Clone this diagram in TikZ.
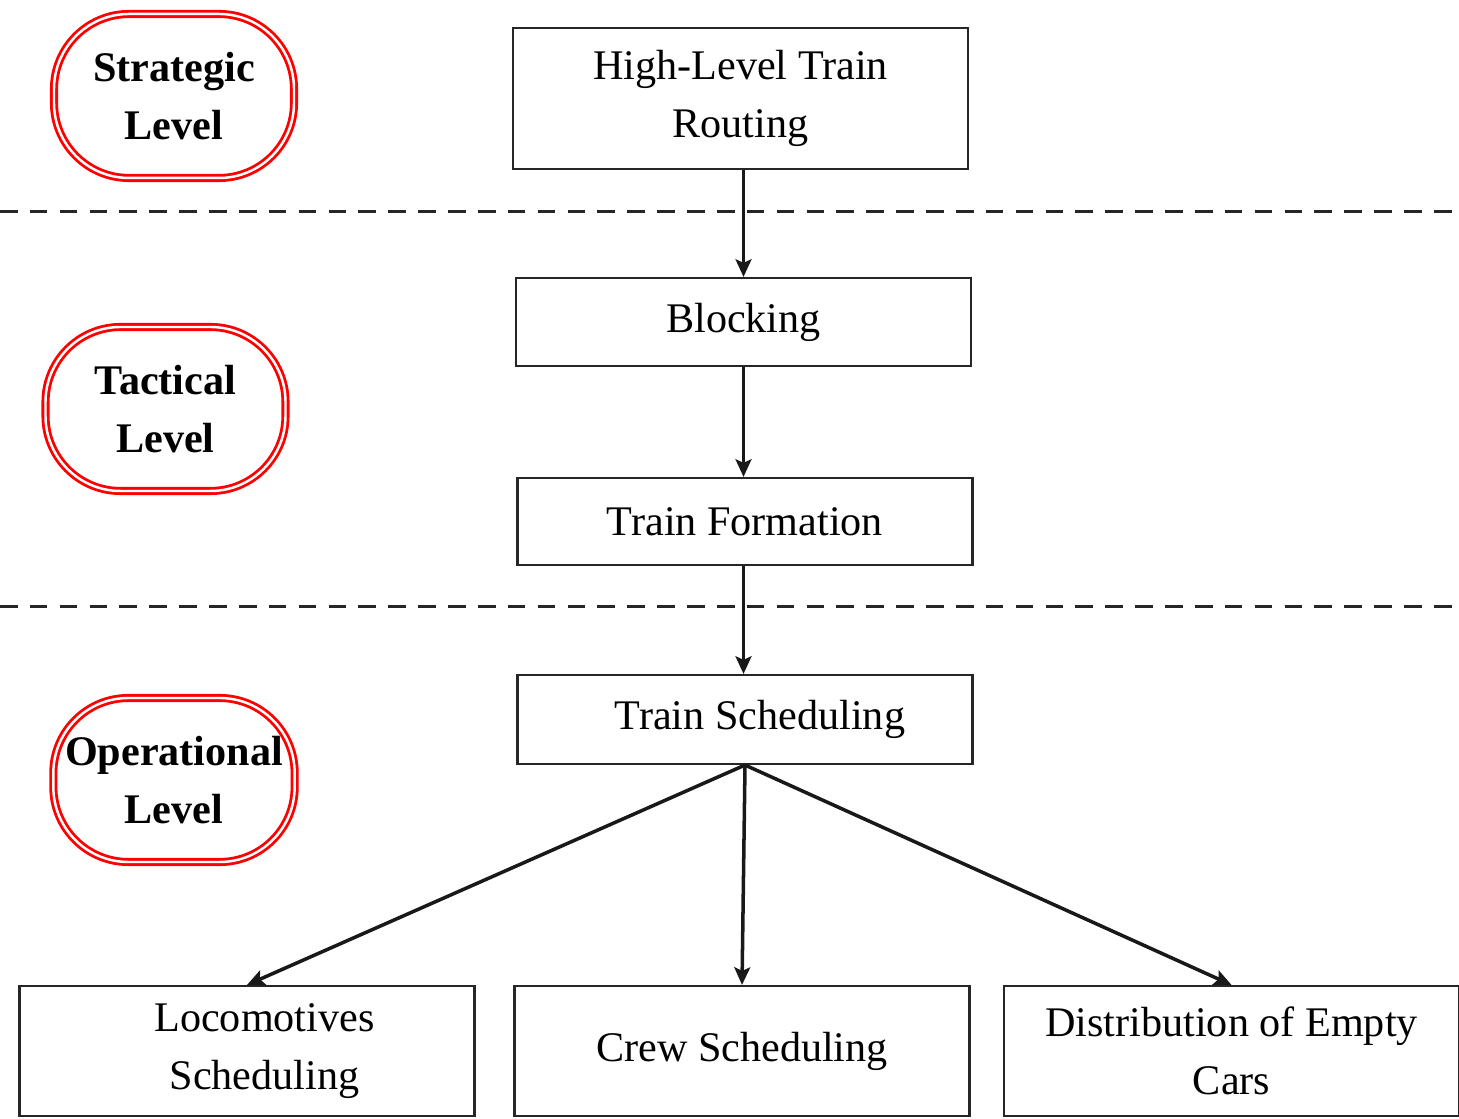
\documentclass[tikz,border=0pt]{standalone}
\usepackage{fontspec}
\setmainfont{Liberation Serif}
\usetikzlibrary{arrows.meta, positioning}

\begin{document}
\begin{tikzpicture}[
    box/.style={draw=black!85, line width=0.6pt, minimum width=4.55cm, align=center,
                font=\fontsize{12}{16.5}\selectfont},
    levelbox/.style={draw=red, double=white, line width=0.8pt, double distance=0.7pt,
                     rounded corners=0.75cm, minimum width=2.4cm, minimum height=1.64cm,
                     align=center, font=\fontsize{12}{16.5}\selectfont\bfseries},
    flow/.style={-{Stealth[length=5pt, width=4.5pt, inset=1pt]}, line width=1pt, black!90},
    sep/.style={dashed, line width=0.85pt, black!85, dash pattern=on 5pt off 3.5pt}
]
    % Frame of the picture
    \useasboundingbox (0,0) rectangle (14.59,11.18);
    \clip (0,0) rectangle (14.59,11.18);

    % Level separators
    \draw[sep] (0,9.06) -- (14.59,9.06);
    \draw[sep] (0,5.11) -- (14.59,5.11);

    % Level labels
    \node[levelbox] (strategic) at (1.74,10.22) {Strategic\\Level};
    \node[levelbox] (tactical) at (1.655,7.09) {Tactical\\Level};
    \node[levelbox] (operational) at (1.74,3.38) {Operational\\Level};

    % Planning steps
    \node[box, minimum height=1.41cm] (routing) at (7.405,10.195) {High-Level Train\\Routing};
    \node[box, minimum height=0.88cm] (blocking) at (7.435,7.96) {Blocking};
    \node[box, minimum height=0.87cm] (formation) at (7.45,5.965) {Train Formation};
    \node[box, minimum height=0.89cm] (scheduling) at (7.45,3.985) {\hspace{0.3cm}Train Scheduling};

    % Operational problems
    \node[box, minimum height=1.30cm] (loco) at (2.47,0.67) {\hspace{0.35cm}Locomotives\\\hspace{0.35cm}Scheduling};
    \node[box, minimum height=1.30cm] (crew) at (7.42,0.67) {Crew Scheduling};
    \node[box, minimum height=1.30cm] (empty) at (12.315,0.67) {Distribution of Empty\\Cars};

    % Arrows
    \draw[flow] (blocking.north |- routing.south) -- (blocking.north);
    \draw[flow] (blocking.south) -- (blocking.south |- formation.north);
    \draw[flow] (blocking.south |- formation.south) -- (blocking.south |- scheduling.north);
    \draw[flow] (scheduling.south) -- (loco.north);
    \draw[flow] (scheduling.south) -- (crew.north);
    \draw[flow] (scheduling.south) -- (empty.north);
\end{tikzpicture}
\end{document}
